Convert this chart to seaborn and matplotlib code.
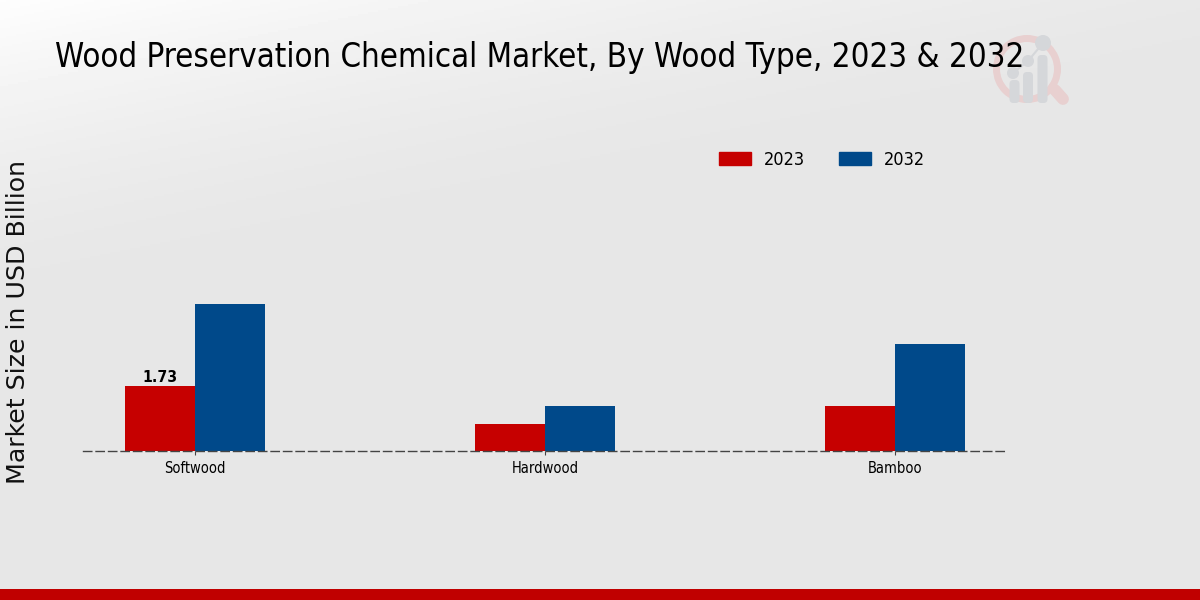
import numpy as np
import pandas as pd
import matplotlib
matplotlib.use('Agg')
import matplotlib.pyplot as plt
from matplotlib.patches import Circle, FancyBboxPatch, Wedge
import seaborn as sns

categories = ['Softwood', 'Hardwood', 'Bamboo']
years = ['2023', '2032']
values_2023 = [1.73, 0.72, 1.20]
values_2032 = [3.91, 1.20, 2.85]
colors = ['#c60000', '#00498a']

sns.set_theme(style='white')
plt.rcParams['font.family'] = ['DejaVu Sans']

df = pd.DataFrame({'category': categories * 2,
                   'year': [years[0]] * 3 + [years[1]] * 3,
                   'value': values_2023 + values_2032})

fig = plt.figure(figsize=(12, 6), dpi=100)

# background gradient, light top left to grey
bg = fig.add_axes([0, 0, 1, 1], zorder=0)
yy, xx = np.mgrid[0:1:300j, 0:1:600j]
shade = np.clip(1 - 2.6 * (xx * 0.3 + yy * 0.75 + 0.02), 0, 1) ** 1.5
bg.imshow(0.905 + 0.095 * shade, cmap='gray', vmin=0, vmax=1, extent=[0, 1200, 600, 0], aspect='auto')
bg.add_patch(plt.Rectangle((0, 589), 1200, 11, color='#c00000', lw=0))

# logo watermark
ring = '#e8d0d0'
grey = '#d5d7da'
bg.add_patch(Wedge((1027, 69), 34, 0, 360, width=7, color=ring, lw=0))
bg.plot([1055, 1063], [90, 99], color=ring, lw=8.5, solid_capstyle='round')
for cx, top in [(1014.5, 80), (1028, 72), (1042.5, 55)]:
    bg.add_patch(FancyBboxPatch((cx - 4, top + 1), 8, 101 - top, boxstyle='round,pad=1,rounding_size=4', color=grey, lw=0))
for cx, cy, r in [(1013, 73, 6), (1028, 61, 6), (1043, 43, 8)]:
    bg.add_patch(Circle((cx, cy), r, color=grey, lw=0))
bg.plot([1013, 1028, 1043], [73, 61, 43], color=grey, lw=1.5)
bg.set_xlim(0, 1200)
bg.set_ylim(600, 0)
bg.axis('off')

ax = fig.add_axes([83 / 1200, (600 - 451) / 600, 924 / 1200, 321 / 600], zorder=1)
ax.patch.set_alpha(0)
sns.barplot(data=df, x='category', y='value', hue='year', palette=colors, width=0.4, gap=0,
            saturation=1, ax=ax, legend=False, edgecolor='none', zorder=2)
ax.set_xlim(-0.32, 2.32)
ax.set_ylim(0, 321 / 37.6)
ax.set_xlabel('')
ax.set_ylabel('')
ax.set_yticks([])
sns.despine(ax=ax, left=True)
ax.spines['bottom'].set_linestyle((0, (6, 3)))
ax.spines['bottom'].set_color('#444444')
ax.spines['bottom'].set_linewidth(1)
ax.spines['bottom'].set_zorder(5)
ax.tick_params(axis='x', length=3, width=0.8, color='#444444', bottom=True, pad=4.2)
for lab in ax.get_xticklabels():
    lab.set_fontsize(10.5)
    lab.set_stretch('condensed')
    lab.set_color('black')

labels = ax.bar_label(ax.containers[0], labels=['1.73', '', ''], fontsize=11.3, fontweight='bold',
                      color='black', padding=1)
for t in labels:
    t.set_stretch('condensed')

fig.text(55 / 1200, 1 - 57.5 / 600, 'Wood Preservation Chemical Market, By Wood Type, 2023 & 2032',
         fontsize=23.65, stretch='condensed', color='black', va='center', ha='left', zorder=3)
fig.text(18.5 / 1200, 1 - 322 / 600, 'Market Size in USD Billion', fontsize=18.2, rotation=90,
         color='#111111', va='center', ha='center', zorder=3)

handles = [plt.Rectangle((0, 0), 1, 1, color=c) for c in colors]
leg = fig.legend(handles, years, loc='center', bbox_to_anchor=(822 / 1200, 1 - 160 / 600), ncol=2,
                 frameon=False, handlelength=1.77, handleheight=0.77, handletextpad=0.72, columnspacing=1.88,
                 fontsize=13, labelcolor='black')
for t in leg.get_texts():
    t.set_stretch('condensed')

fig.savefig('out.png', dpi=100)
